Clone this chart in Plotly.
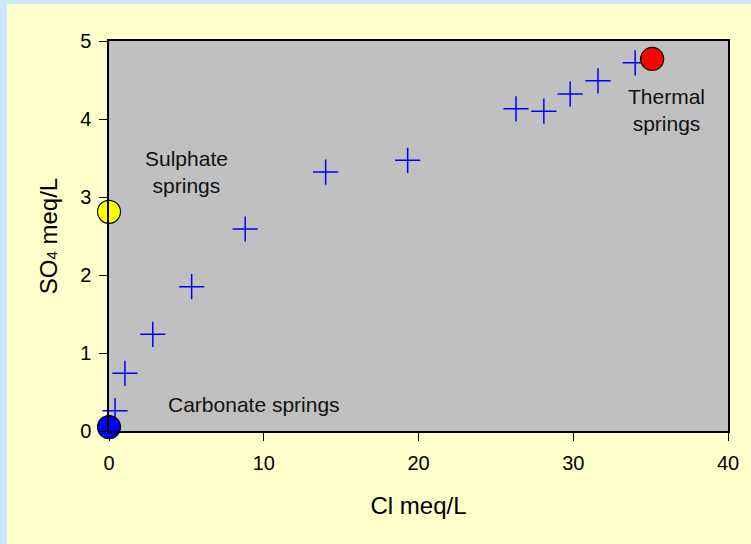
import plotly.graph_objects as go

cl = [0.39, 1.03, 2.83, 5.34, 8.8, 14.0, 19.3, 26.3, 28.1, 29.8, 31.6, 34.0]
so4 = [0.26, 0.74, 1.24, 1.85, 2.59, 3.32, 3.47, 4.13, 4.10, 4.32, 4.49, 4.72]

end_names = ["Thermal", "Sulphate", "Carbonate"]
end_cl = [35.1, 0.0, 0.0]
end_so4 = [4.77, 2.81, 0.05]
end_colors = ["#FF0000", "#FFFF00", "#0000FF"]

OX, OY = 7, 4  # figure offset inside the page (light blue strips left and top)
W, H = 751 - OX, 544 - OY
L, R, T, B = 109 - OX, 20, 41 - OY, 113
pw, ph = W - L - R, H - T - B

def px(x):
    return (x - OX - L) / pw

def py(y):
    return (H - B - (y - OY)) / ph

fig = go.Figure()
fig.add_trace(go.Scatter(
    x=cl, y=so4, mode="markers",
    marker=dict(symbol="cross-thin", size=18, line=dict(color="#0000FF", width=1.5)),
    cliponaxis=False, showlegend=False))
fig.add_trace(go.Scatter(
    x=end_cl, y=end_so4, mode="markers", text=end_names,
    marker=dict(symbol="circle", size=23, color=end_colors, line=dict(color="black", width=1.2)),
    cliponaxis=False, showlegend=False))

fam = "Liberation Sans, Arial, sans-serif"
font = dict(family=fam, size=21, color="#111111")
tfont = dict(family=fam, size=20, color="black")

for txt, ax, ay in [("Sulphate<br>springs", 187, 172),
                    ("Carbonate springs", 255, 404),
                    ("Thermal<br>springs", 669, 110)]:
    fig.add_annotation(x=px(ax), y=py(ay), xref="paper", yref="paper", text=txt,
                       xanchor="center", yanchor="middle",
                       showarrow=False, font=font, align="center")

fig.update_layout(
    width=W, height=H,
    margin=dict(l=L, r=R, t=T, b=B),
    paper_bgcolor="#FFFFCC", plot_bgcolor="#C0C0C0",
    font=tfont,
)
fig.update_xaxes(range=[0, 40], tickvals=[0, 10, 20, 30, 40], showgrid=False, zeroline=False,
                 showline=True, linecolor="black", linewidth=1.5, mirror=True,
                 ticks="outside", ticklen=8, tickwidth=1, tickcolor="black", ticklabelstandoff=5,
                 title=dict(text="Cl meq/L", standoff=24, font=dict(family=fam, size=24, color="black")),
                 tickfont=tfont)
fig.update_yaxes(range=[0, 5], tickvals=[0, 1, 2, 3, 4, 5], showgrid=False, zeroline=False,
                 showline=True, linecolor="black", linewidth=1.5, mirror=True,
                 ticks="outside", ticklen=8, tickwidth=1, tickcolor="black", ticklabelstandoff=4,
                 title=dict(text="SO<span style='font-size:15px'>4</span> meq/L", standoff=16,
                            font=dict(family=fam, size=24, color="black")),
                 tickfont=tfont)

fig.write_html(
    "out.html",
    config={"displayModeBar": False},
    post_script=("document.body.style.margin='0';"
                 "document.body.style.padding='%dpx 0 0 %dpx';"
                 "document.body.style.background='#CCE8FF';"
                 "document.documentElement.style.background='#CCE8FF';"
                 "document.body.style.overflow='hidden';") % (OY, OX),
)
